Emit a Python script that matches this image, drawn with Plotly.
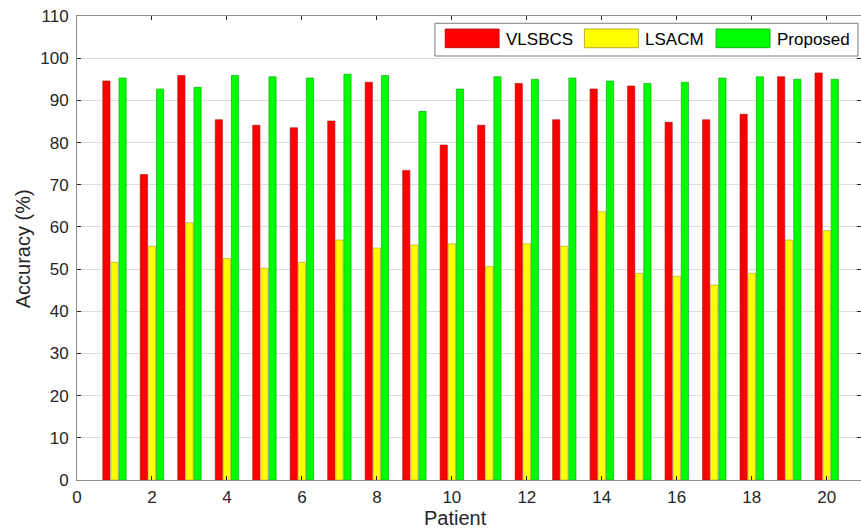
import plotly.graph_objects as go

patients = list(range(1, 21))
series_names = ["VLSBCS", "LSACM", "Proposed"]
vlsbcs = [94.6, 72.4, 95.9, 85.4, 84.1, 83.5, 85.1, 94.3, 73.4, 79.4,
          84.1, 94.0, 85.4, 92.7, 93.4, 84.8, 85.4, 86.7, 95.6, 96.5]
lsacm = [51.6, 55.4, 61.0, 52.5, 50.2, 51.6, 56.9, 55.0, 55.7, 56.0,
         50.6, 56.0, 55.4, 63.6, 49.0, 48.3, 46.2, 49.0, 56.9, 59.1]
proposed = [95.3, 92.7, 93.1, 95.9, 95.6, 95.3, 96.2, 95.9, 87.4, 92.7,
            95.6, 95.0, 95.3, 94.6, 94.0, 94.3, 95.3, 95.6, 95.0, 95.0]
x_ticks = list(range(0, 21, 2))
y_ticks = list(range(0, 111, 10))

colors = ["#FF0000", "#FFFF00", "#00FF00"]
edges = ["#b00000", "#a89a20", "#00a000"]

W, H = 861, 531
L, R, T, B = 76.7, 0, 16, 51
FONT = "Liberation Sans, Arial, Helvetica, sans-serif"

fig = go.Figure()
for name, vals, c, e in zip(series_names, [vlsbcs, lsacm, proposed], colors, edges):
    fig.add_trace(go.Bar(x=patients, y=vals, name=name, marker_color=c,
                         marker_line=dict(color=e, width=0.6), showlegend=False))

pw = W - L - R
ph = H - T - B
def px_x(p):
    return (p - L) / pw
def px_y(p):
    return (H - B - p) / ph

# manual legend (MATLAB-like wide swatches)
shapes = [dict(type="rect", xref="paper", yref="paper",
               x0=px_x(434.7), x1=px_x(858), y0=px_y(56), y1=px_y(23.3),
               line=dict(color="#7f7f7f", width=1), fillcolor="white", layer="above")]
annotations = []
sw_x = [445, 584.3, 716]
for name, c, e, sx in zip(series_names, colors, edges, sw_x):
    shapes.append(dict(type="rect", xref="paper", yref="paper",
                       x0=px_x(sx), x1=px_x(sx + 54), y0=px_y(47.7), y1=px_y(29),
                       line=dict(color=e, width=0.8), fillcolor=c, layer="above"))
    annotations.append(dict(x=px_x(sx + 59), y=px_y(39.5), xref="paper", yref="paper",
                            text=name, showarrow=False, xanchor="left", yanchor="middle",
                            font=dict(family=FONT, size=17, color="black")))

annotations.append(dict(x=px_x(455), y=px_y(518), xref="paper", yref="paper",
                        text="Patient", showarrow=False, xanchor="center", yanchor="middle",
                        font=dict(family=FONT, size=20, color="#262626")))
annotations.append(dict(x=px_x(23), y=px_y(249), xref="paper", yref="paper",
                        text="Accuracy (%)", showarrow=False, textangle=-90,
                        xanchor="center", yanchor="middle",
                        font=dict(family=FONT, size=20, color="#262626")))

fig.update_layout(
    width=W, height=H,
    margin=dict(l=L, r=R, t=T, b=B, pad=0),
    paper_bgcolor="white", plot_bgcolor="white",
    barmode="group", bargap=0.352, bargroupgap=0.11,
    shapes=shapes, annotations=annotations,
    font=dict(family=FONT, size=17, color="#262626"),
    xaxis=dict(range=[0, (W - L) / 37.5], tickvals=x_ticks, ticktext=[str(v) for v in x_ticks],
               showgrid=False, zeroline=False, showline=True, linecolor="#8c8c8c", linewidth=1,
               mirror="ticks", ticks="inside", ticklen=4, tickcolor="#262626",
               tickfont=dict(family=FONT, size=17, color="#262626"), ticklabelstandoff=2),
    yaxis=dict(range=[0, 110], tickvals=y_ticks, ticktext=[str(v) for v in y_ticks],
               showgrid=True, gridcolor="#dcdcdc", gridwidth=1, zeroline=False,
               showline=True, linecolor="#8c8c8c", linewidth=1,
               mirror="ticks", ticks="inside", ticklen=4, tickcolor="#262626",
               tickfont=dict(family=FONT, size=17, color="#262626"), ticklabelstandoff=4),
)

fig.write_html("out.html")
